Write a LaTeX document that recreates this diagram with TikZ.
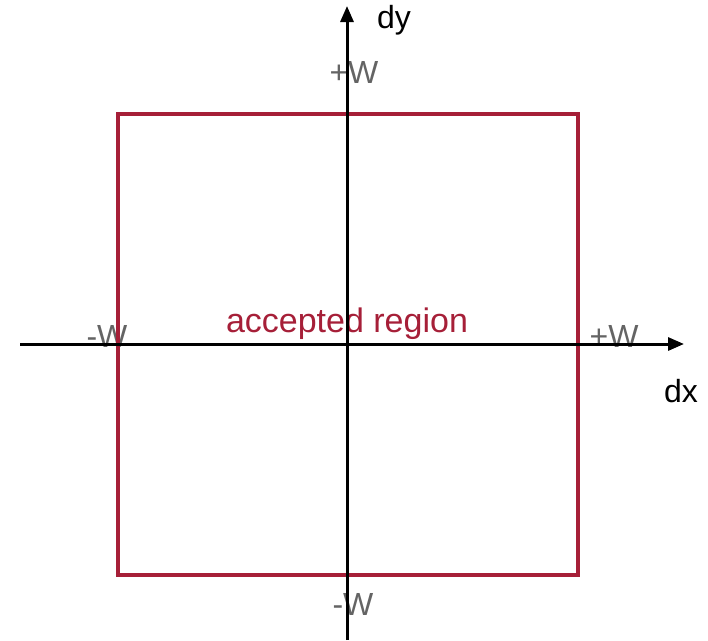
\documentclass[tikz,border=0pt]{standalone}
\usepackage{fontspec}
\setmainfont{Liberation Sans}
\usetikzlibrary{positioning, arrows.meta}
\definecolor{regionred}{RGB}{166,31,56}
\definecolor{labelgray}{RGB}{100,100,100}

\begin{document}
\begin{tikzpicture}[
        x=1pt, y=-1pt,
        axis/.style={-{Triangle[length=16pt, width=13pt]}, line width=3pt, black},
        region/.style={draw=regionred, line width=4.5pt},
        bound/.style={text=labelgray, font=\fontsize{32}{38}\selectfont, inner sep=0pt, anchor=base},
        axlabel/.style={text=black, font=\fontsize{32}{38}\selectfont, inner sep=0pt, anchor=base},
        regionlabel/.style={text=regionred, font=\fontsize{34}{40}\selectfont, inner sep=0pt, anchor=base}
    ]
    \useasboundingbox (0,0) rectangle (708,640);

    % Bound labels (under the lines)
    \node[bound] (wtop) at (354,83) {+W};
    \node[bound] (wleft) at (107,347) {-W};
    \node[bound] (wright) at (614,347) {+W};
    \node[bound] (wbottom) at (353,615) {-W};

    % Accepted region
    \node[region, minimum width=460pt, minimum height=461pt, inner sep=0pt] (box) at (348,344.5) {};
    \node[regionlabel] (acc) at (347,332) {accepted region};

    % Axes
    \coordinate (xstart) at (20,344);
    \coordinate (xend) at (684,344);
    \coordinate (ystart) at (347,640);
    \coordinate (yend) at (347,6);
    \draw[axis] (xstart) -- (xend);
    \draw[axis] (ystart) -- (yend);

    \node[axlabel] (dy) at (394,28) {dy};
    \node[axlabel] (dx) at (681,402) {dx};
\end{tikzpicture}
\end{document}
